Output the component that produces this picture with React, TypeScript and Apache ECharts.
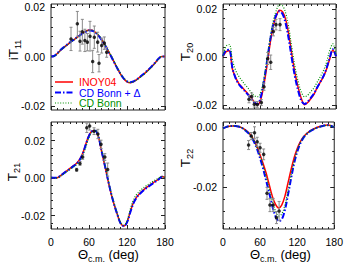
import React, { useEffect, useRef } from "react";
import * as echarts from "echarts";

const THETA = [0,5,10,15,20,25,30,35,40,45,50,55,60,65,70,75,80,85,90,95,100,105,110,115,120,125,130,135,140,145,150,155,160,165,170,175,180];

const T11_INOY = [0,0.0002,0.0012,0.0025,0.0036,0.0046,0.0056,0.0066,0.0075,0.0085,0.0094,0.0102,0.0107,0.0106,0.0098,0.0085,0.0068,0.0047,0.0024,0.0001,-0.0024,-0.0049,-0.0072,-0.009,-0.0102,-0.0106,-0.0102,-0.0094,-0.0084,-0.0074,-0.0063,-0.0051,-0.0038,-0.0024,-0.0009,0,0];
const T11_CDD = [0,0.0002,0.0013,0.0026,0.0037,0.0047,0.0057,0.0066,0.0075,0.0084,0.0093,0.01,0.0105,0.0104,0.0097,0.0084,0.0067,0.0046,0.0023,0,-0.0025,-0.0049,-0.0071,-0.0089,-0.01,-0.0104,-0.0101,-0.0093,-0.0083,-0.0073,-0.0062,-0.005,-0.0037,-0.0023,-0.0008,0,0];
const T11_CDB = [0,0.0001,0.0011,0.0024,0.0035,0.0045,0.0055,0.0065,0.0074,0.0084,0.0093,0.0101,0.0106,0.0106,0.0099,0.0087,0.0071,0.005,0.0027,0.0004,-0.0021,-0.0046,-0.0069,-0.0088,-0.01,-0.0105,-0.0102,-0.0095,-0.0086,-0.0076,-0.0065,-0.0053,-0.004,-0.0026,-0.001,0,0];

const T20_INOY = [0.0002,0.0022,0.0026,-0.005,-0.0085,-0.011,-0.0125,-0.014,-0.0155,-0.017,-0.0188,-0.0199,-0.0178,-0.0118,-0.0037,0.0055,0.0128,0.0172,0.0195,0.0188,0.0155,0.009,0.0005,-0.0072,-0.013,-0.0175,-0.0199,-0.019,-0.0173,-0.0155,-0.0128,-0.0105,-0.0082,-0.005,-0.0008,0.0028,0.0003];
const T20_CDD = [0.0003,0.0028,0.003,-0.0045,-0.0088,-0.0113,-0.0128,-0.0143,-0.0158,-0.0174,-0.019,-0.0196,-0.0168,-0.0102,-0.002,0.0068,0.0136,0.0176,0.0191,0.0178,0.0138,0.007,-0.0013,-0.0087,-0.0143,-0.0183,-0.0196,-0.0186,-0.017,-0.0152,-0.0127,-0.0104,-0.008,-0.0046,-0.0003,0.0032,0.0003];
const T20_CDB = [0.0005,0.0045,0.0052,-0.0012,-0.0055,-0.008,-0.0098,-0.0115,-0.013,-0.0148,-0.0162,-0.0166,-0.0147,-0.0092,-0.0012,0.0077,0.015,0.0195,0.0218,0.0213,0.0182,0.012,0.0032,-0.0045,-0.0105,-0.0148,-0.0166,-0.0159,-0.0144,-0.0128,-0.0105,-0.0082,-0.0056,-0.0022,0.0028,0.0055,0.0005];

const T21_INOY = [0.0003,0.0001,0.0002,0.0013,0.0026,0.0039,0.0052,0.0065,0.0078,0.0098,0.0132,0.0182,0.0228,0.0251,0.0252,0.0218,0.014,0.0065,-0.0013,-0.0085,-0.0145,-0.0197,-0.0242,-0.0256,-0.0235,-0.0182,-0.0133,-0.0103,-0.0083,-0.0067,-0.0053,-0.0041,-0.0029,-0.0017,-0.0006,0.0008,0.0003];
const T21_CDD = [0.0003,0.0001,0.0002,0.0012,0.0025,0.0037,0.0049,0.0062,0.0075,0.0095,0.0128,0.0178,0.0225,0.025,0.0252,0.022,0.0143,0.0068,-0.001,-0.0083,-0.0144,-0.0197,-0.0243,-0.0257,-0.0237,-0.0185,-0.0136,-0.0105,-0.0085,-0.0069,-0.0055,-0.0043,-0.0031,-0.0019,-0.0007,0.0007,0.0003];
const T21_CDB = [0.0003,0,0,0.001,0.0022,0.0034,0.0046,0.0058,0.007,0.0088,0.0118,0.0165,0.0215,0.0245,0.0252,0.0224,0.015,0.0074,-0.0005,-0.0078,-0.014,-0.0193,-0.0238,-0.0252,-0.0228,-0.0168,-0.0118,-0.0088,-0.007,-0.0055,-0.0042,-0.0031,-0.002,-0.001,0,0.0008,0.0003];

const T22_INOY = [-0.0004,0,0.0003,0.0004,0.0004,0.0002,-0.0002,-0.0008,-0.0016,-0.0027,-0.0043,-0.0066,-0.0093,-0.0122,-0.0155,-0.0194,-0.0232,-0.0258,-0.027,-0.026,-0.0232,-0.0188,-0.0143,-0.0103,-0.0072,-0.0049,-0.0033,-0.0022,-0.0014,-0.0008,-0.0003,0.0001,0.0004,0.0006,0.0007,0.0004,0];
const T22_CDD = [-0.0004,0,0.0003,0.0004,0.0004,0.0002,-0.0002,-0.0009,-0.0018,-0.003,-0.0048,-0.0073,-0.0104,-0.0139,-0.018,-0.0222,-0.0265,-0.0298,-0.0314,-0.0308,-0.0278,-0.0228,-0.0173,-0.0122,-0.0083,-0.0055,-0.0036,-0.0024,-0.0015,-0.0009,-0.0004,0,0.0003,0.0005,0.0006,0.0004,0];
const T22_CDB = [-0.0004,0,0.0003,0.0004,0.0004,0.0002,-0.0002,-0.0009,-0.0017,-0.0028,-0.0045,-0.0069,-0.0098,-0.013,-0.0167,-0.0208,-0.0249,-0.028,-0.0297,-0.029,-0.0262,-0.0215,-0.0162,-0.0115,-0.0078,-0.0052,-0.0035,-0.0023,-0.0015,-0.0009,-0.0004,0,0.0003,0.0005,0.0006,0.0004,0];

const T11_EXP_ANG = [31.6,41.6,45.8,49.5,53.5,57.4,61.6,65.8,68.4,73.7,75.8,80.0,84.2,87.9];
const T11_EXP_VAL = [0.0071,0.0132,0.0062,0.01,0.0065,0.0058,0.0082,-0.002,0.0078,0.0058,-0.0027,0.0044,0.0054,0.0017];
const T11_EXP_ERR = [0.0047,0.005,0.004,0.005,0.0045,0.0035,0.006,0.0045,0.0045,0.004,0.0035,0.003,0.0025,0.002];

const T20_EXP_ANG = [41.4,45.7,49.9,54.6,61.1,65.3,71.2,76.0,80.2,84.4,90.8];
const T20_EXP_VAL = [-0.0176,-0.0165,-0.0197,-0.0198,-0.019,-0.0124,-0.0006,-0.0022,0.0106,0.0135,0.0135];
const T20_EXP_ERR = [0.0015,0.0015,0.0012,0.0012,0.0012,0.0015,0.0025,0.003,0.0018,0.0022,0.0025];

const T21_EXP_ANG = [40.5,45.8,50.0,56.5,61.0,68.0,74.0,79.0,85.0,89.5];
const T21_EXP_VAL = [0.0044,0.0078,0.0112,0.0268,0.0278,0.025,0.0235,0.018,0.0112,0.0045];
const T21_EXP_ERR = [0.0008,0.001,0.0012,0.0025,0.0022,0.0018,0.0025,0.0022,0.0018,0.0035];

const T22_EXP_ANG = [41.4,45.7,51.0,55.3,60.0,65.8,71.2,76.0,81.2,86.5,90.8];
const T22_EXP_VAL = [-0.006,-0.003,-0.0019,-0.0049,-0.0069,-0.0091,-0.0221,-0.026,-0.026,-0.0302,-0.028];
const T22_EXP_ERR = [0.0015,0.0012,0.002,0.0015,0.0015,0.0018,0.002,0.0022,0.0022,0.002,0.0032];

const X_TICKS = [0, 60, 120, 180];
const Y_TICKS = [-0.02, 0, 0.02];
const SERIES_NAMES = ["INOY04", "CD Bonn + \u0394", "CD Bonn"];

const FONT = "Liberation Sans, Arial, Helvetica, sans-serif";
const RED = "#ff0000";
const BLUE = "#0000ff";
const GREEN = "#009000";
const LEGEND_TEXT = [RED, BLUE, GREEN];

const PANELS = [
  { grid: { left: 51, top: 4, width: 114, height: 106 }, ymin: -0.0216, ymax: 0.0212, xLab: false,
    curves: [T11_INOY, T11_CDD, T11_CDB], exp: [T11_EXP_ANG, T11_EXP_VAL, T11_EXP_ERR] },
  { grid: { left: 223, top: 4, width: 113, height: 105 }, ymin: -0.0217, ymax: 0.0221, xLab: false,
    curves: [T20_INOY, T20_CDD, T20_CDB], exp: [T20_EXP_ANG, T20_EXP_VAL, T20_EXP_ERR] },
  { grid: { left: 51, top: 122, width: 114, height: 107 }, ymin: -0.0272, ymax: 0.0299, xLab: true,
    curves: [T21_INOY, T21_CDD, T21_CDB], exp: [T21_EXP_ANG, T21_EXP_VAL, T21_EXP_ERR] },
  { grid: { left: 223, top: 122, width: 113, height: 107 }, ymin: -0.034, ymax: 0.0017, xLab: true,
    curves: [T22_INOY, T22_CDD, T22_CDB], exp: [T22_EXP_ANG, T22_EXP_VAL, T22_EXP_ERR] },
];

const LINE_STYLES = [
  { color: RED, width: 1.5, type: "solid" as any, dash: null as any },
  { color: BLUE, width: 2, type: [6, 2, 1.5, 2], dash: [6, 2, 1.5, 2] },
  { color: GREEN, width: 1.2, type: [1, 1.6], dash: [1, 1.6] },
];

const YTITLES = [
  { x: 13, y: 50, main: "iT", sub: "11" },
  { x: 185, y: 52, main: "T", sub: "20" },
  { x: 12, y: 172, main: "T", sub: "21" },
  { x: 185, y: 158, main: "T", sub: "22" },
];
const XTITLES = [{ x: 78, y: 254 }, { x: 250, y: 254 }];
const LEGEND_POS = { x: 55, y: 82, row: 10.5, lineLen: 18, gap: 6 };

function minorValues(min: number, max: number, step: number) {
  const out: number[] = [];
  for (let k = Math.ceil(min / step); k <= Math.floor(max / step); k++) {
    out.push(Math.round(k * step * 10000) / 10000);
  }
  return out;
}

function buildOption() {
  const grids: any[] = [];
  const xAxes: any[] = [];
  const yAxes: any[] = [];
  const series: any[] = [];
  PANELS.forEach((p, i) => {
    grids.push({ ...p.grid, show: true, borderColor: "#222", borderWidth: 1, backgroundColor: "transparent" });
    ["bottom", "top"].forEach((pos, k) => {
      xAxes.push({
        type: "value", gridIndex: i, position: pos, min: 0, max: 180, interval: 60,
        axisLine: { show: false, onZero: false }, splitLine: { show: false },
        axisTick: { show: true, inside: true, length: 4, lineStyle: { color: "#222" } },
        minorTick: { show: true, splitNumber: 6, length: 2, lineStyle: { color: "#222" } },
        axisLabel: { show: k === 0 && p.xLab, margin: 7, fontSize: 10.5, color: "#000", fontFamily: FONT,
          customValues: X_TICKS },
      });
    });
    const minors = minorValues(p.ymin, p.ymax, 0.004);
    ["left", "right"].forEach((pos, k) => {
      yAxes.push({
        type: "value", gridIndex: i, position: pos, min: p.ymin, max: p.ymax,
        axisLine: { show: false, onZero: false }, splitLine: { show: false },
        axisTick: { show: true, inside: true, length: 4, customValues: Y_TICKS, lineStyle: { color: "#222" } },
        axisLabel: { show: k === 0, margin: 6, fontSize: 10.5, color: "#000", fontFamily: FONT,
          customValues: Y_TICKS, formatter: (v: number) => v.toFixed(2) },
      });
      yAxes.push({
        type: "value", gridIndex: i, position: pos, min: p.ymin, max: p.ymax,
        axisLine: { show: false, onZero: false }, splitLine: { show: false },
        axisTick: { show: true, inside: true, length: 2, customValues: minors, lineStyle: { color: "#222" } },
        axisLabel: { show: false },
      });
    });
    const xi = i * 2;
    const yi = i * 4;
    p.curves.forEach((c, j) => {
      const ls = LINE_STYLES[j];
      series.push({
        type: "line", name: SERIES_NAMES[j], xAxisIndex: xi, yAxisIndex: yi,
        data: THETA.map((t, n) => [t, c[n]]), showSymbol: false, symbol: "none", smooth: 0.35,
        lineStyle: { color: ls.color, width: ls.width, type: ls.type }, itemStyle: { color: ls.color },
        z: 2 + j, clip: true,
      });
    });
    const [ang, val, err] = p.exp;
    series.push({
      type: "custom", xAxisIndex: xi, yAxisIndex: yi, silent: true, z: 6, clip: true,
      data: ang.map((a, n) => [a, val[n], err[n]]),
      encode: { x: 0, y: 1 },
      renderItem: (params: any, api: any) => {
        const x = api.value(0), v = api.value(1), e = api.value(2);
        const lo = api.coord([x, v - e]);
        const hi = api.coord([x, v + e]);
        const st = { stroke: "#8a8a8a", lineWidth: 1 };
        return {
          type: "group",
          children: [
            { type: "line", shape: { x1: lo[0], y1: lo[1], x2: hi[0], y2: hi[1] }, style: st },
            { type: "line", shape: { x1: lo[0] - 1.5, y1: lo[1], x2: lo[0] + 1.5, y2: lo[1] }, style: st },
            { type: "line", shape: { x1: hi[0] - 1.5, y1: hi[1], x2: hi[0] + 1.5, y2: hi[1] }, style: st },
          ],
        };
      },
    });
    series.push({
      type: "scatter", xAxisIndex: xi, yAxisIndex: yi, symbol: "circle", symbolSize: 3.5, z: 7,
      itemStyle: { color: "#000" }, silent: true,
      data: ang.map((a, n) => [a, val[n]]),
    });
  });

  const graphics: any[] = [];
  YTITLES.forEach((t) => {
    graphics.push({
      type: "text", x: t.x, y: t.y, rotation: Math.PI / 2, silent: true,
      style: {
        text: `{m|${t.main}}{s|${t.sub}}`, align: "center", verticalAlign: "middle",
        fill: "#000", fontFamily: FONT,
        rich: {
          m: { fontSize: 13.5, fontFamily: FONT, fill: "#000" },
          s: { fontSize: 9, fontFamily: FONT, fill: "#000", padding: [10, 0, 0, 0] },
        },
      },
    });
  });
  XTITLES.forEach((t) => {
    graphics.push({
      type: "text", x: t.x, y: t.y, silent: true,
      style: { text: "\u0398", fontSize: 13, fontFamily: FONT, fill: "#000", align: "left", verticalAlign: "middle" },
    });
    graphics.push({
      type: "text", x: t.x + 10, y: t.y + 4.5, silent: true,
      style: { text: "c.m.", fontSize: 9, fontFamily: FONT, fill: "#000", align: "left", verticalAlign: "middle" },
    });
    graphics.push({
      type: "text", x: t.x + 30.5, y: t.y, silent: true,
      style: { text: "(deg)", fontSize: 13, fontFamily: FONT, fill: "#000", align: "left", verticalAlign: "middle" },
    });
  });
  SERIES_NAMES.forEach((name, j) => {
    const ls = LINE_STYLES[j];
    const y = LEGEND_POS.y + j * LEGEND_POS.row;
    graphics.push({
      type: "line", silent: true,
      shape: { x1: LEGEND_POS.x, y1: y, x2: LEGEND_POS.x + LEGEND_POS.lineLen, y2: y },
      style: { stroke: ls.color, lineWidth: ls.width, lineDash: ls.dash || undefined },
    });
    graphics.push({
      type: "text", silent: true, x: LEGEND_POS.x + LEGEND_POS.lineLen + LEGEND_POS.gap, y,
      style: { text: name, fontSize: 10.5, fontFamily: FONT, fill: LEGEND_TEXT[j], align: "left", verticalAlign: "middle" },
    });
  });

  return {
    animation: false,
    textStyle: { fontFamily: FONT },
    grid: grids,
    xAxis: xAxes,
    yAxis: yAxes,
    graphic: graphics,
    series,
  };
}

export default function App() {
  const ref = useRef<HTMLDivElement>(null);
  useEffect(() => {
    if (!ref.current) return;
    const chart = echarts.init(ref.current, undefined, { renderer: "svg" });
    chart.setOption(buildOption() as any);
    return () => chart.dispose();
  }, []);
  return (
    <div
      ref={ref}
      style={{ position: "absolute", left: 0, top: 0, width: 346, height: 264, background: "#fff" }}
    />
  );
}
